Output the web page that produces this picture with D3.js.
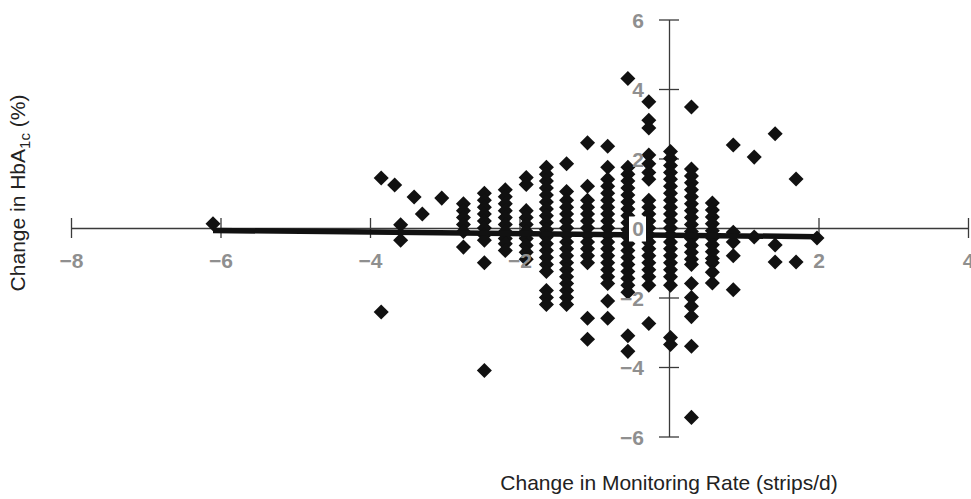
<!DOCTYPE html>
<html><head><meta charset="utf-8">
<script src="https://cdn.jsdelivr.net/npm/d3@7"></script>
<style>body{margin:0;background:#fff}svg{display:block}</style>
</head><body><svg id="c" width="971" height="499"></svg>
<script>
const xTicks = [-8, -6, -4, -2, 2, 4];
const yTicks = [6, 4, 2, 0, -2, -4, -6];
const xTitle = "Change in Monitoring Rate (strips/d)";
const yTitleMain = "Change in HbA";
const yTitleSub = "1c";
const yTitleEnd = " (%)";

// column x positions (change in strips/d)
const colX = [-6.10, -3.85, -3.67, -3.59, -3.41, -3.30, -3.04, -2.75, -2.47, -2.19, -1.91, -1.64, -1.37, -1.09, -0.82, -0.55, -0.27, 0.02, 0.30, 0.58, 0.86, 1.14, 1.42, 1.70, 1.98];
// HbA1c change values in each column
const colY = [
  [0.12],
  [1.44, -2.42],
  [1.24],
  [0.09, -0.35],
  [0.89],
  [0.40],
  [0.86],
  [0.7, 0.5, 0.3, 0.1, -0.1, -0.55],
  [1.0, 0.8, 0.6, 0.4, 0.2, 0.0, -0.2, -0.35, -1.0, -4.1],
  [1.1, 0.9, 0.7, 0.5, 0.3, 0.1, -0.1, -0.3, -0.45, -0.65],
  [1.45, 1.25, 0.5, 0.3, 0.1, -0.1, -0.3, -0.5, -0.7, -0.9],
  [1.75, 1.55, 1.35, 1.15, 0.95, 0.75, 0.55, 0.35, 0.15, -0.05, -0.25, -0.45, -0.65, -0.85, -1.05, -1.25, -1.8, -2.0, -2.2],
  [1.85, 1.05, 0.8, 0.6, 0.4, 0.2, 0.0, -0.2, -0.4, -0.6, -0.8, -1.0, -1.2, -1.4, -1.6, -1.8, -2.0, -2.2],
  [2.45, 1.2, 0.8, 0.6, 0.4, 0.2, 0.0, -0.2, -0.4, -0.6, -0.8, -1.0, -2.6, -3.2],
  [2.35, 1.75, 1.4, 1.2, 1.0, 0.8, 0.6, 0.4, 0.2, 0.0, -0.2, -0.4, -0.6, -0.8, -1.0, -1.2, -1.4, -1.6, -2.1, -2.6],
  [4.3, 1.75, 1.55, 1.35, 1.15, 0.95, 0.75, 0.55, 0.35, 0.15, -0.05, -0.25, -0.45, -0.65, -0.85, -1.05, -1.25, -1.45, -1.65, -1.85, -3.1, -3.55],
  [3.63, 3.1, 2.88, 2.1, 1.85, 1.6, 1.4, 0.8, 0.6, 0.4, 0.2, 0.0, -0.2, -0.4, -0.6, -0.8, -1.0, -1.2, -1.4, -1.65, -2.75],
  [2.2, 2.0, 1.8, 1.6, 1.4, 1.2, 1.0, 0.8, 0.6, 0.4, 0.2, 0.0, -0.2, -0.4, -0.6, -0.8, -1.0, -1.2, -1.4, -1.65, -3.15, -3.35],
  [3.48, 1.7, 1.5, 1.3, 1.1, 0.9, 0.7, 0.5, 0.3, 0.1, -0.1, -0.3, -0.5, -0.7, -0.9, -1.05, -1.6, -2.0, -2.25, -2.55, -3.4, -5.45],
  [0.72, 0.52, 0.32, 0.12, -0.08, -0.28, -0.48, -0.68, -0.88, -1.0, -1.27, -1.58],
  [2.39, -0.12, -0.4, -0.8, -1.78],
  [2.04, -0.26],
  [2.71, -0.49, -0.98],
  [1.41, -0.98],
  [-0.29]
];
// regression line end points
const fitX = [-6.1, 1.98];
const fitY = [-0.07, -0.25];

const points = [];
colX.forEach((cx, i) => colY[i].forEach(v => points.push({x: cx, y: v})));

const svg = d3.select("#c");
const x = d3.scaleLinear().domain([-8, 4]).range([71, 968]);
const y = d3.scaleLinear().domain([-6, 6]).range([436.5, 19.5]);

const axisColor = "#3a3a3a";
const labelColor = "#8f8f8f";
const font = "Liberation Sans, Arial, Helvetica, sans-serif";

// axis lines (beneath points)
const gx = svg.append("g").attr("transform", `translate(0,${y(0)})`)
  .call(d3.axisBottom(x).tickValues(xTicks).tickSize(10).tickSizeOuter(0).tickFormat(""));
gx.select(".domain").attr("stroke", axisColor).attr("stroke-width", 1.3);
gx.selectAll(".tick line").attr("y1", -10).attr("y2", 10).attr("stroke", axisColor).attr("stroke-width", 1.3);

const gy = svg.append("g").attr("transform", `translate(${x(0)},0)`)
  .call(d3.axisLeft(y).tickValues(yTicks).tickSize(10).tickSizeOuter(0).tickFormat(""));
gy.select(".domain").attr("stroke", axisColor).attr("stroke-width", 1.3);
gy.selectAll(".tick line").attr("x1", -10).attr("x2", 10).attr("stroke", axisColor).attr("stroke-width", 1.3);

// diamonds
const sqDiamond = {
  draw(ctx, size) {
    const r = Math.sqrt(size / 2);
    ctx.moveTo(0, -r); ctx.lineTo(r, 0); ctx.lineTo(0, r); ctx.lineTo(-r, 0); ctx.closePath();
  }
};
svg.append("g").selectAll("path").data(points).join("path")
  .attr("transform", d => `translate(${x(d.x)},${y(d.y)})`)
  .attr("d", d3.symbol().type(sqDiamond).size(113))
  .attr("fill", "#111");

// regression line
svg.append("path")
  .datum(fitX.map((v, i) => [v, fitY[i]]))
  .attr("d", d3.line().x(d => x(d[0])).y(d => y(d[1])))
  .attr("stroke", "#111").attr("stroke-width", 5.5).attr("fill", "none");

// tick labels on top
const fmt = d => (d < 0 ? "\u2212" + Math.abs(d) : String(d));
const lx = svg.append("g").attr("transform", `translate(0,${y(0)})`)
  .call(d3.axisBottom(x).tickValues(xTicks).tickSize(0).tickFormat(fmt));
lx.select(".domain").remove();
lx.selectAll(".tick text").attr("y", 40).attr("dy", 0)
  .attr("font-family", font).attr("font-size", 21).attr("font-weight", "bold").attr("fill", labelColor);

const ly = svg.append("g").attr("transform", `translate(${x(0)},0)`)
  .call(d3.axisLeft(y).tickValues(yTicks).tickSize(0).tickFormat(fmt));
ly.select(".domain").remove();
ly.selectAll(".tick").filter(d => d === 0).insert("rect", "text")
  .attr("x", -40).attr("y", -12).attr("width", 17).attr("height", 25).attr("fill", "#fff");
ly.selectAll(".tick text").attr("x", -25).attr("dy", "0.36em")
  .attr("font-family", font).attr("font-size", 21).attr("font-weight", "bold").attr("fill", labelColor);

// axis titles
svg.append("text").attr("x", x(0)).attr("y", 490).attr("text-anchor", "middle")
  .attr("font-family", font).attr("font-size", 21).attr("fill", "#222").text(xTitle);

const yt = svg.append("text").attr("transform", "translate(25,193) rotate(-90)")
  .attr("text-anchor", "middle").attr("font-family", font).attr("font-size", 21).attr("fill", "#222");
yt.append("tspan").text(yTitleMain);
yt.append("tspan").attr("font-size", 15).attr("dy", 5).text(yTitleSub);
yt.append("tspan").attr("dy", -5).text(yTitleEnd);
</script></body></html>
